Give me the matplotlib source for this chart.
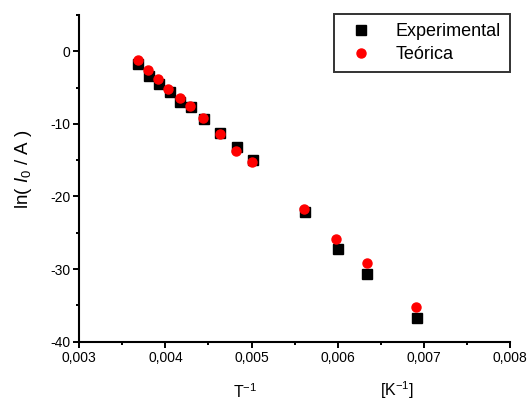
import matplotlib
matplotlib.use("Agg")
import matplotlib.pyplot as plt
from matplotlib.ticker import MultipleLocator, FuncFormatter

plt.rcParams['font.family'] = ['Liberation Sans', 'DejaVu Sans']
plt.rcParams['mathtext.fontset'] = 'custom'
plt.rcParams['mathtext.rm'] = 'Liberation Sans'
plt.rcParams['mathtext.it'] = 'Liberation Sans:italic'

# inverse temperature (1/K) and ln(I0/A)
t_inv_exp = [0.003686, 0.00381, 0.003926, 0.004054, 0.004173, 0.004298, 0.004452,
             0.004638, 0.004835, 0.005021, 0.005621, 0.006007, 0.006344, 0.006924]
ln_i0_exp = [-1.75, -3.40, -4.46, -5.56, -6.94, -7.71, -9.33,
             -11.21, -13.22, -15.01, -22.09, -27.27, -30.72, -36.78]

t_inv_teo = [0.003686, 0.00380, 0.003916, 0.004034, 0.004173, 0.004290, 0.004440,
             0.004638, 0.004823, 0.005009, 0.005609, 0.005984, 0.006344, 0.006912]
ln_i0_teo = [-1.24, -2.62, -3.77, -5.15, -6.47, -7.58, -9.19,
             -11.43, -13.69, -15.29, -21.76, -25.81, -29.12, -35.18]

fig = plt.figure(figsize=(5.32, 4.0), dpi=100)
ax = fig.add_axes([0.1489, 0.1458, 0.8098, 0.8167])

ax.plot(t_inv_exp, ln_i0_exp, linestyle='none', marker='s', markersize=6.5,
        color='black', label='Experimental')
ax.plot(t_inv_teo, ln_i0_teo, linestyle='none', marker='o', markersize=6.5,
        color='red', markeredgecolor='red', label='Teórica')

ax.set_xlim(0.003, 0.008)
ax.set_ylim(-40, 5)

ax.xaxis.set_major_locator(MultipleLocator(0.001))
ax.xaxis.set_minor_locator(MultipleLocator(0.0005))
ax.yaxis.set_major_locator(MultipleLocator(10))
ax.yaxis.set_minor_locator(MultipleLocator(5))
ax.xaxis.set_major_formatter(FuncFormatter(lambda v, p: f"{v:.3f}".replace('.', ',')))
ax.yaxis.set_major_formatter(FuncFormatter(lambda v, p: f"{v:.0f}"))

for side in ('top', 'right'):
    ax.spines[side].set_visible(False)
for side in ('left', 'bottom'):
    ax.spines[side].set_linewidth(1.5)

ax.tick_params(which='major', direction='out', length=4.5, width=1.4, labelsize=10, pad=2)
ax.tick_params(which='minor', direction='out', length=2.5, width=1.4)

ax.set_ylabel('ln( $I$$_0$ / A )', fontsize=13.5, va='center')
ax.yaxis.set_label_coords(-0.13, 0.529)

fig.text(245 / 532, 1 - 391.5 / 400, 'T$^{-1}$', fontsize=11.5, ha='center', va='center')
fig.text(397 / 532, 1 - 390.5 / 400, '[K$^{-1}$]', fontsize=11.5, ha='center', va='center')

leg = ax.legend(loc='upper right', bbox_to_anchor=(1.0, 1.003), borderaxespad=0,
                fontsize=13, frameon=True, fancybox=False, edgecolor='black',
                handletextpad=0.9, handlelength=2.0, borderpad=0.5,
                labelspacing=0.35, numpoints=1)
leg.get_frame().set_linewidth(1.4)

fig.savefig('out.png', dpi=100)
